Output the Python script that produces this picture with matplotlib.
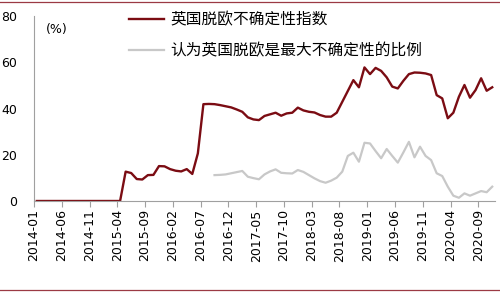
import matplotlib
matplotlib.use('Agg')
import matplotlib.pyplot as plt
from matplotlib.lines import Line2D
import numpy as np

plt.rcParams['font.family'] = ['DejaVu Sans', 'Noto Sans CJK SC']

# monthly, 2014-01 .. 2020-11
months = [f'{2014 + k // 12}-{k % 12 + 1:02d}' for k in range(83)]

brexit_index = [0] * 16 + [
    12.7, 12.1, 9.5, 9.3, 11.2, 11.3, 15.1, 15.0, 13.8, 13.1,
    12.8, 13.8, 11.7, 20.6, 41.9, 42.0, 41.9, 41.5, 41.0, 40.5,
    39.6, 38.6, 36.2, 35.3, 35.0, 36.8, 37.5, 38.2, 36.9, 37.9,
    38.2, 40.4, 39.2, 38.6, 38.3, 37.2, 36.5, 36.5, 38.2, 42.9,
    47.6, 52.3, 49.2, 57.8, 54.9, 57.6, 56.3, 53.5, 49.5, 48.7,
    52.0, 54.9, 55.6, 55.5, 55.2, 54.5, 45.8, 44.4, 35.8, 38.2,
    45.1, 50.2, 44.7, 48.0, 53.1, 47.7, 49.2]

# starts 2016-09
biggest_share = [np.nan] * 32 + [
    11.2, 11.3, 11.5, 12.0, 12.5, 13.0, 10.5, 9.9, 9.4, 11.5,
    12.8, 13.7, 12.2, 12.0, 11.9, 13.4, 12.6, 11.2, 9.8, 8.6,
    7.9, 8.8, 10.1, 12.7, 19.5, 20.9, 17.0, 25.2, 24.9, 21.6,
    18.5, 22.5, 19.5, 16.6, 21.0, 25.6, 18.9, 23.5, 19.5, 17.7,
    12.0, 10.8, 6.2, 2.3, 1.4, 3.3, 2.3, 3.3, 4.3, 3.8, 6.2]

labels = ['英国脱欧不确定性指数', '认为英国脱欧是最大不确定性的比例']

fig = plt.figure(figsize=(5, 2.93), dpi=100)
ax = fig.add_axes([0.068, 0.314, 0.922, 0.631])

x = np.arange(len(months))
l1, = ax.plot(x, brexit_index, color='#7b0c13', lw=1.7)
l2, = ax.plot(x, biggest_share, color='#c8c8c8', lw=1.6)

ax.set_xlim(-0.5, len(months) - 0.5)
ax.set_ylim(0, 80)
ax.set_yticks([0, 20, 40, 60, 80])
tick_pos = np.arange(0, 81, 5)
ax.set_xticks(tick_pos - 0.5)
ax.set_xticklabels([months[k] for k in tick_pos], rotation=90)
ax.tick_params(axis='x', length=4, width=0.8, color='#a0a0a0', pad=2, labelsize=9)
ax.tick_params(axis='y', length=0, pad=12, labelsize=9)

for s in ['top', 'right']:
    ax.spines[s].set_visible(False)
for s in ['left', 'bottom']:
    ax.spines[s].set_color('#a0a0a0')
    ax.spines[s].set_linewidth(0.8)

ax.text(0.025, 0.93, '(%)', transform=ax.transAxes, fontsize=9, va='center')

fig.legend([l1, l2], labels, loc='upper left', bbox_to_anchor=(0.258, 0.962),
           frameon=False, handlelength=2.2, handletextpad=0.45,
           labelspacing=0.9, borderpad=0, borderaxespad=0,
           prop={'family': ['Noto Sans CJK SC'], 'size': 11.3})

fig.add_artist(Line2D([0, 1], [1 - 1.5 / 293, 1 - 1.5 / 293], color='#9b3a44', lw=0.9))
fig.add_artist(Line2D([0, 1], [3 / 293, 3 / 293], color='#9b3a44', lw=0.9))

fig.savefig('out.png', dpi=100)
